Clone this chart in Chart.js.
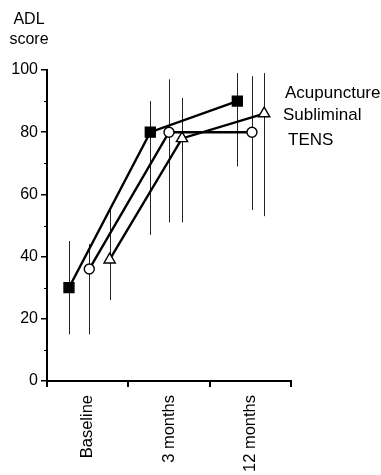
<!DOCTYPE html>
<html>
<head>
<meta charset="utf-8">
<script src="https://cdn.jsdelivr.net/npm/chart.js@4"></script>
<style>
  html, body { margin: 0; padding: 0; background: #fff; }
  #wrap { width: 381px; height: 475px; }
</style>
</head>
<body>
<div id="wrap"><canvas id="chart" width="381" height="475"></canvas></div>
<script>
// Dados
const categories = ["Baseline", "3 months", "12 months"];
const seriesNames = ["Acupuncture", "Subliminal", "TENS"];

// posição horizontal de cada ponto (em unidades de categoria, 0 = Baseline)
const acuX = [-0.23, 0.77, 1.84];
const subX = [0.02, 1.0, 2.02];
const tensX = [0.27, 1.16, 2.17];

// médias
const acuMean = [30, 80, 90];
const subMean = [36, 80, 80];
const tensMean = [39, 78, 86];

// barras de erro (inferior / superior)
const acuLow = [15, 47, 69];
const acuHigh = [45, 90, 99];
const subLow = [15, 51, 55];
const subHigh = [44, 97, 98];
const tensLow = [26, 51, 53];
const tensHigh = [56, 91, 99];

const yTicks = [0, 20, 40, 60, 80, 100];

const FONT = "'Liberation Sans', Arial, Helvetica, sans-serif";

const toPoints = (xs, ys, lows, highs) =>
  xs.map((x, i) => ({ x: x, y: ys[i], lo: lows[i], hi: highs[i] }));

// Plugin das barras de erro (desenhadas antes dos marcadores)
const errorBars = {
  id: "errorBars",
  beforeDatasetsDraw(chart) {
    const ctx = chart.ctx;
    const xs = chart.scales.x;
    const ys = chart.scales.y;
    ctx.save();
    ctx.strokeStyle = "#222";
    ctx.lineWidth = 1;
    chart.data.datasets.forEach((ds) => {
      ds.data.forEach((p) => {
        const px = Math.round(xs.getPixelForValue(p.x)) + 0.5;
        ctx.beginPath();
        ctx.moveTo(px, ys.getPixelForValue(p.hi));
        ctx.lineTo(px, ys.getPixelForValue(p.lo));
        ctx.stroke();
      });
    });
    ctx.restore();
  },
};

// Textos extras: título do eixo, nomes das séries, ticks menores
const extras = {
  id: "extras",
  afterDraw(chart) {
    const ctx = chart.ctx;
    const ys = chart.scales.y;
    const area = chart.chartArea;
    ctx.save();
    ctx.fillStyle = "#000";
    ctx.font = "16px " + FONT;
    ctx.textAlign = "center";
    ctx.textBaseline = "middle";
    ctx.fillText("ADL", 29, 20);
    ctx.fillText("score", 29, 40);

    ctx.font = "17px " + FONT;
    ctx.textAlign = "left";
    ctx.fillText(seriesNames[0], area.right - 6, 93);
    ctx.fillText(seriesNames[1], area.right - 8, 115);
    ctx.fillText(seriesNames[2], area.right - 3, 140);

    // ticks menores
    ctx.strokeStyle = "#000";
    ctx.lineWidth = 1;
    for (let v = 10; v < 100; v += 20) {
      const py = Math.round(ys.getPixelForValue(v)) + 0.5;
      ctx.beginPath();
      ctx.moveTo(area.left - 3, py);
      ctx.lineTo(area.left, py);
      ctx.stroke();
    }
    ctx.restore();
  },
};

const commonLine = {
  borderColor: "#000",
  borderWidth: 2.4,
  pointBorderColor: "#000",
  pointBorderWidth: 1.4,
  tension: 0,
  fill: false,
};

const ctx = document.querySelector("#chart").getContext("2d");
const chart = new Chart(ctx, {
  type: "line",
  data: {
    datasets: [
      Object.assign({}, commonLine, {
        label: seriesNames[0],
        data: toPoints(acuX, acuMean, acuLow, acuHigh),
        pointStyle: "rect",
        pointRadius: 7,
        pointBackgroundColor: "#000",
      }),
      Object.assign({}, commonLine, {
        label: seriesNames[1],
        data: toPoints(subX, subMean, subLow, subHigh),
        pointStyle: "circle",
        pointRadius: 5,
        pointBackgroundColor: "#fff",
      }),
      Object.assign({}, commonLine, {
        label: seriesNames[2],
        data: toPoints(tensX, tensMean, tensLow, tensHigh),
        pointStyle: "triangle",
        pointRadius: 6.5,
        pointBackgroundColor: "#fff",
      }),
    ],
  },
  options: {
    responsive: false,
    animation: false,
    events: [],
    clip: false,
    layout: { padding: { top: 70, right: 90, left: 0, bottom: 0 } },
    plugins: { legend: { display: false }, tooltip: { enabled: false } },
    scales: {
      x: {
        type: "linear",
        min: -0.5,
        max: 2.5,
        afterFit: (s) => { s.height = 94; },
        afterBuildTicks: (s) => {
          s.ticks = [-0.5, 0, 0.5, 1, 1.5, 2, 2.5].map((v) => ({ value: v }));
        },
        border: { display: true, color: "#000", width: 2 },
        grid: {
          drawOnChartArea: false,
          drawTicks: true,
          tickLength: 6,
          lineWidth: 2,
          color: (c) => (c.tick && Number.isInteger(c.tick.value) ? "rgba(0,0,0,0)" : "#000"),
        },
        ticks: {
          autoSkip: false,
          minRotation: 90,
          maxRotation: 90,
          padding: 8,
          color: "#000",
          font: { family: FONT, size: 16.5 },
          callback: (v) => (Number.isInteger(v) ? categories[v] : ""),
        },
      },
      y: {
        min: 0,
        max: 100,
        afterFit: (s) => { s.width = 47; },
        afterBuildTicks: (s) => {
          s.ticks = yTicks.map((v) => ({ value: v }));
        },
        border: { display: true, color: "#000", width: 2 },
        grid: {
          drawOnChartArea: false,
          drawTicks: true,
          tickLength: 6,
          lineWidth: 1.5,
          color: "#000",
        },
        ticks: {
          padding: 3,
          color: "#000",
          font: { family: FONT, size: 16 },
        },
      },
    },
  },
  plugins: [errorBars, extras],
});
</script>
</body>
</html>
